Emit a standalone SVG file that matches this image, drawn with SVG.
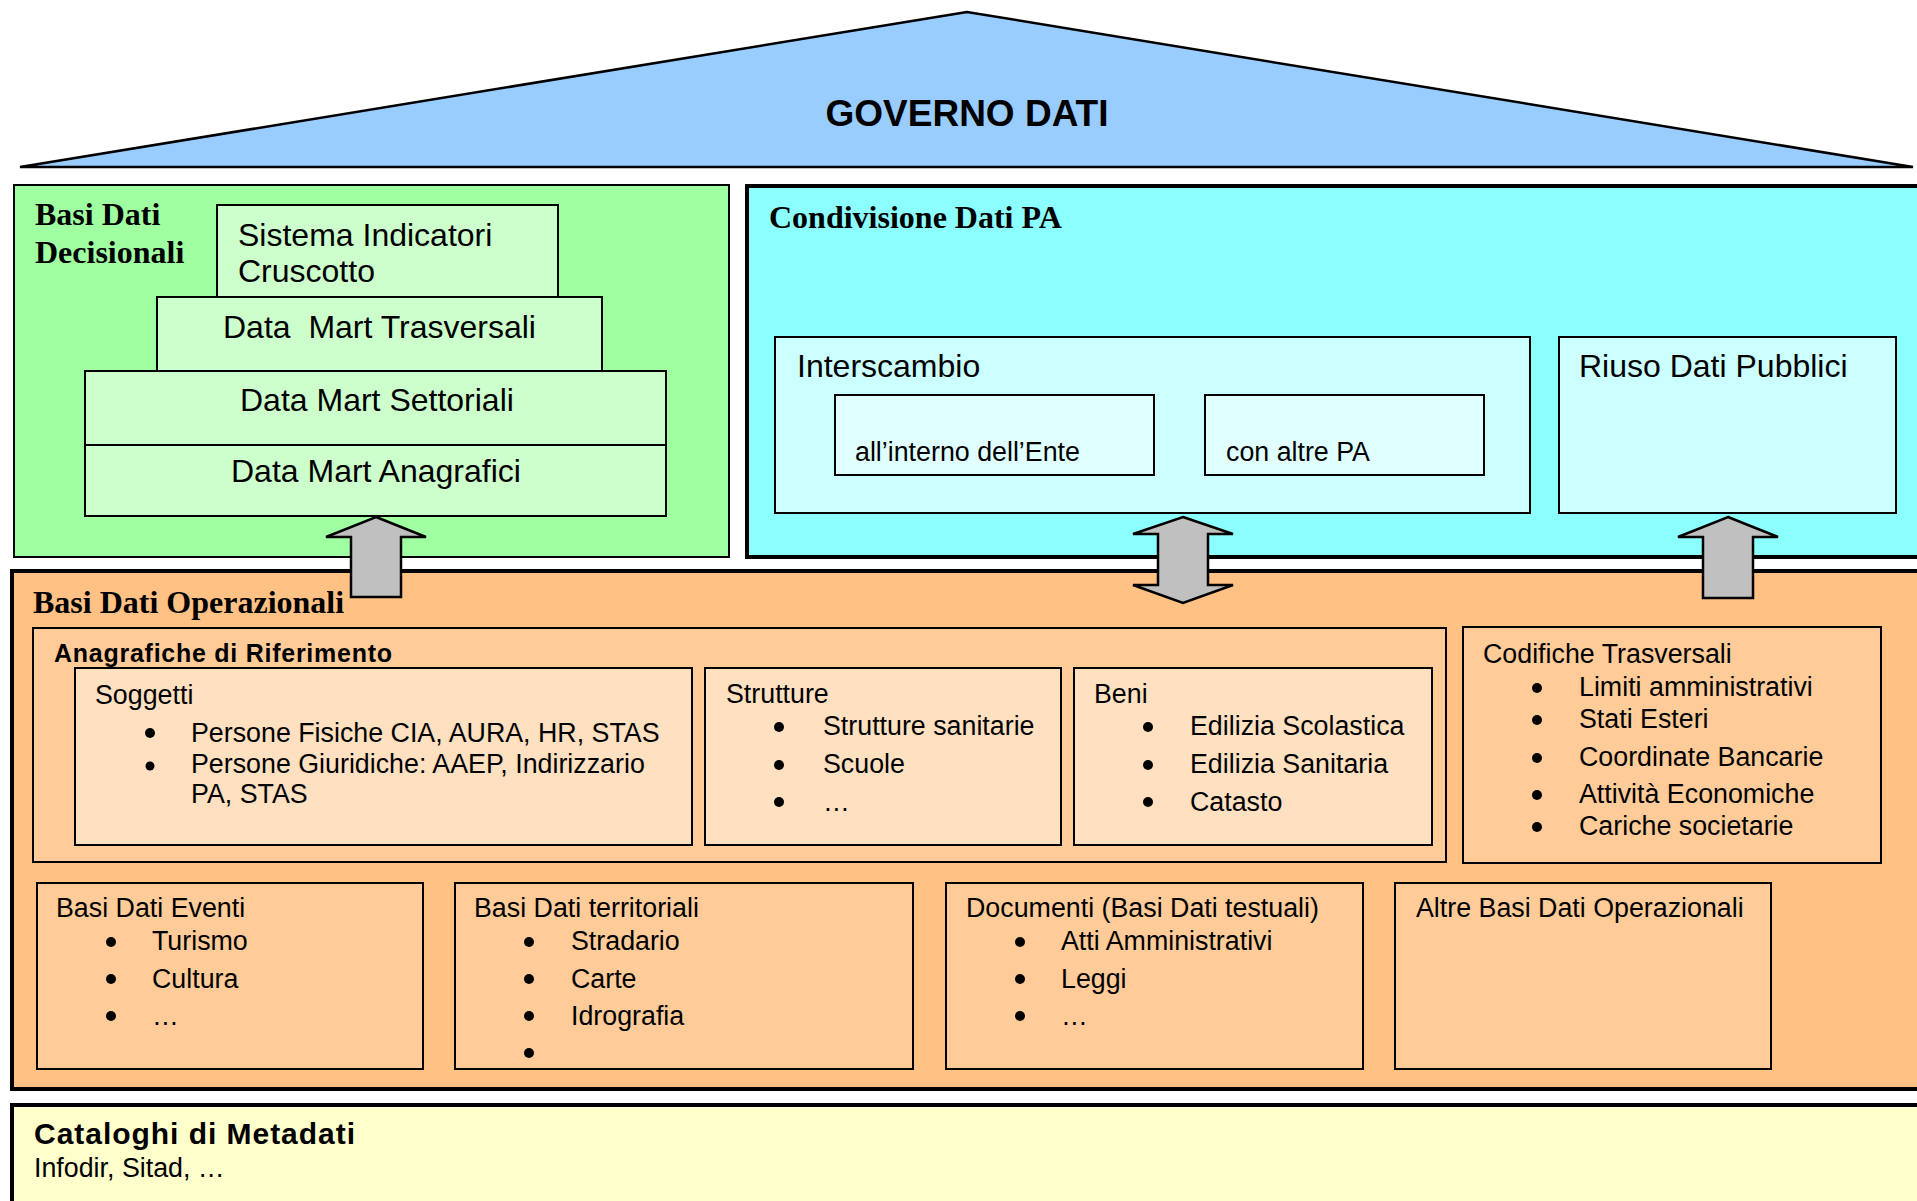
<svg xmlns="http://www.w3.org/2000/svg" width="1917" height="1201" viewBox="0 0 1917 1201">
  <style>
    .sans { font-family: "Liberation Sans", Arial, sans-serif; fill: #000; }
    .serifb { font-family: "Liberation Serif", "Times New Roman", serif; font-weight: bold; font-size: 32px; fill: #000; }
    .body { font-size: 26.8px; }
    .big { font-size: 32px; }
    .box { stroke: #000; stroke-width: 2; }
    .thick { stroke: #000; stroke-width: 4; }
    .arrow { fill: #C0C0C0; stroke: #000; stroke-width: 2.5; stroke-linejoin: miter; }
    .dot { fill: #000; }
  </style>

  <!-- roof -->
  <g id="governo-dati">
    <polygon points="967,12 20,167 1913,167" fill="#99CCFF" stroke="#000" stroke-width="2.5" stroke-linejoin="miter"/>
    <text x="967" y="126" class="sans" font-size="37" font-weight="bold" text-anchor="middle">GOVERNO DATI</text>
  </g>

  <!-- decision support databases -->
  <g id="basi-dati-decisionali">
    <rect x="14" y="185" width="715" height="372" fill="#A0FFA0" class="box"/>
    <text x="35" y="225" class="serifb">Basi Dati</text>
    <text x="35" y="263" class="serifb">Decisionali</text>
  </g>
  <g id="sistema-indicatori">
    <rect x="217" y="205" width="341" height="92" fill="#CCFFCC" class="box"/>
    <text x="238" y="246" class="sans big">Sistema Indicatori</text>
    <text x="238" y="282" class="sans big">Cruscotto</text>
  </g>
  <g id="dm-trasversali">
    <rect x="157" y="297" width="445" height="74" fill="#CCFFCC" class="box"/>
    <text x="223" y="338" class="sans big" xml:space="preserve">Data  Mart Trasversali</text>
  </g>
  <g id="dm-settoriali">
    <rect x="85" y="371" width="581" height="74" fill="#CCFFCC" class="box"/>
    <text x="240" y="411" class="sans big">Data Mart Settoriali</text>
  </g>
  <g id="dm-anagrafici">
    <rect x="85" y="445" width="581" height="71" fill="#CCFFCC" class="box"/>
    <text x="231" y="482" class="sans big">Data Mart Anagrafici</text>
  </g>

  <!-- data sharing -->
  <g id="condivisione-dati-pa">
    <rect x="747" y="186" width="1200" height="371" fill="#8CFFFF" class="thick"/>
    <text x="769" y="228" class="serifb">Condivisione Dati PA</text>
  </g>
  <g id="interscambio">
    <rect x="775" y="337" width="755" height="176" fill="#CCFFFF" class="box"/>
    <text x="797" y="377" class="sans big">Interscambio</text>
  </g>
  <g id="interno-ente">
    <rect x="835" y="395" width="319" height="80" fill="#E0FFFF" class="box"/>
    <text x="855" y="461" class="sans body">all’interno dell’Ente</text>
  </g>
  <g id="altre-pa">
    <rect x="1205" y="395" width="279" height="80" fill="#E0FFFF" class="box"/>
    <text x="1226" y="461" class="sans body">con altre PA</text>
  </g>
  <g id="riuso-dati-pubblici">
    <rect x="1559" y="337" width="337" height="176" fill="#CCFFFF" class="box"/>
    <text x="1579" y="377" class="sans big">Riuso Dati Pubblici</text>
  </g>

  <!-- operational databases -->
  <g id="basi-dati-operazionali">
    <rect x="12" y="571" width="1935" height="518" fill="#FFC184" class="thick"/>
    <text x="33" y="613" class="serifb">Basi Dati Operazionali</text>
  </g>
  <g id="anagrafiche-riferimento">
    <rect x="33" y="628" width="1413" height="234" fill="#FFCC99" class="box"/>
    <text x="54" y="662" class="sans" font-size="25" font-weight="bold" textLength="338">Anagrafiche di Riferimento</text>
  </g>
  <g id="soggetti">
    <rect x="75" y="668" width="617" height="177" fill="#FFE0C0" class="box"/>
    <text x="95" y="704" class="sans body">Soggetti</text>
    <circle cx="150" cy="733" r="5" class="dot"/>
    <text x="191" y="742" class="sans body">Persone Fisiche CIA, AURA, HR, STAS</text>
    <circle cx="150" cy="766" r="4.5" class="dot"/>
    <text x="191" y="773" class="sans body">Persone Giuridiche: AAEP, Indirizzario</text>
    <text x="191" y="803" class="sans body">PA, STAS</text>
  </g>
  <g id="strutture">
    <rect x="705" y="668" width="356" height="177" fill="#FFE0C0" class="box"/>
    <text x="726" y="703" class="sans body">Strutture</text>
    <circle cx="779" cy="727" r="5" class="dot"/>
    <text x="823" y="735" class="sans body">Strutture sanitarie</text>
    <circle cx="779" cy="765" r="5" class="dot"/>
    <text x="823" y="773" class="sans body">Scuole</text>
    <circle cx="779" cy="802" r="5" class="dot"/>
    <text x="823" y="811" class="sans body">…</text>
  </g>
  <g id="beni">
    <rect x="1074" y="668" width="358" height="177" fill="#FFE0C0" class="box"/>
    <text x="1094" y="703" class="sans body">Beni</text>
    <circle cx="1148" cy="727" r="5" class="dot"/>
    <text x="1190" y="735" class="sans body">Edilizia Scolastica</text>
    <circle cx="1148" cy="765" r="5" class="dot"/>
    <text x="1190" y="773" class="sans body">Edilizia Sanitaria</text>
    <circle cx="1148" cy="802" r="5" class="dot"/>
    <text x="1190" y="811" class="sans body">Catasto</text>
  </g>
  <g id="codifiche-trasversali">
    <rect x="1463" y="627" width="418" height="236" fill="#FFCC99" class="box"/>
    <text x="1483" y="663" class="sans body">Codifiche Trasversali</text>
    <circle cx="1537" cy="688" r="5" class="dot"/>
    <text x="1579" y="696" class="sans body">Limiti amministrativi</text>
    <circle cx="1537" cy="720" r="5" class="dot"/>
    <text x="1579" y="728" class="sans body">Stati Esteri</text>
    <circle cx="1537" cy="758" r="5" class="dot"/>
    <text x="1579" y="766" class="sans body">Coordinate Bancarie</text>
    <circle cx="1537" cy="795" r="5" class="dot"/>
    <text x="1579" y="803" class="sans body">Attività Economiche</text>
    <circle cx="1537" cy="827" r="5" class="dot"/>
    <text x="1579" y="835" class="sans body">Cariche societarie</text>
  </g>
  <g id="basi-dati-eventi">
    <rect x="37" y="883" width="386" height="186" fill="#FFCC99" class="box"/>
    <text x="56" y="917" class="sans body">Basi Dati Eventi</text>
    <circle cx="111" cy="942" r="5" class="dot"/>
    <text x="152" y="950" class="sans body">Turismo</text>
    <circle cx="111" cy="979" r="5" class="dot"/>
    <text x="152" y="988" class="sans body">Cultura</text>
    <circle cx="111" cy="1016" r="5" class="dot"/>
    <text x="152" y="1025" class="sans body">…</text>
  </g>
  <g id="basi-dati-territoriali">
    <rect x="455" y="883" width="458" height="186" fill="#FFCC99" class="box"/>
    <text x="474" y="917" class="sans body">Basi Dati territoriali</text>
    <circle cx="529" cy="942" r="5" class="dot"/>
    <text x="571" y="950" class="sans body">Stradario</text>
    <circle cx="529" cy="979" r="5" class="dot"/>
    <text x="571" y="988" class="sans body">Carte</text>
    <circle cx="529" cy="1016" r="5" class="dot"/>
    <text x="571" y="1025" class="sans body">Idrografia</text>
    <circle cx="529" cy="1053" r="5" class="dot"/>
  </g>
  <g id="documenti">
    <rect x="946" y="883" width="417" height="186" fill="#FFCC99" class="box"/>
    <text x="966" y="917" class="sans body">Documenti (Basi Dati testuali)</text>
    <circle cx="1020" cy="942" r="5" class="dot"/>
    <text x="1061" y="950" class="sans body">Atti Amministrativi</text>
    <circle cx="1020" cy="979" r="5" class="dot"/>
    <text x="1061" y="988" class="sans body">Leggi</text>
    <circle cx="1020" cy="1016" r="5" class="dot"/>
    <text x="1061" y="1025" class="sans body">…</text>
  </g>
  <g id="altre-basi-dati">
    <rect x="1395" y="883" width="376" height="186" fill="#FFCC99" class="box"/>
    <text x="1416" y="917" class="sans body">Altre Basi Dati Operazionali</text>
  </g>

  <!-- metadata catalogues -->
  <g id="cataloghi-metadati">
    <rect x="12" y="1105" width="1935" height="140" fill="#FFFFCC" class="thick"/>
    <text x="34" y="1144" class="sans" font-size="30" font-weight="bold" textLength="321">Cataloghi di Metadati</text>
    <text x="34" y="1177" class="sans body">Infodir, Sitad, …</text>
  </g>

  <!-- block arrows between layers -->
  <g id="connectors">
    <polygon class="arrow" points="376,517 426,537 401,537 401,597 351,597 351,537 326,537"/>
    <polygon class="arrow" points="1183,517 1233,534 1208,534 1208,585 1233,585 1183,603 1133,585 1158,585 1158,534 1133,534"/>
    <polygon class="arrow" points="1728,517 1778,537 1753,537 1753,598 1703,598 1703,537 1678,537"/>
  </g>
</svg>
